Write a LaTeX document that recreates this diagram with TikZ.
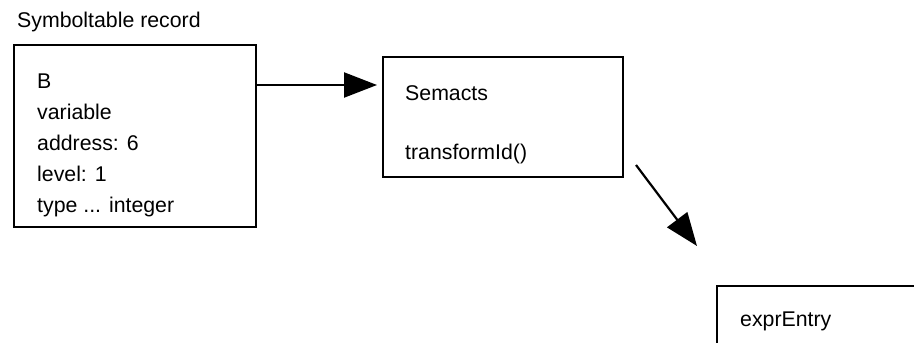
\documentclass[tikz,border=0pt]{standalone}
\usepackage{fontspec}
\setmainfont{Liberation Sans}
\usetikzlibrary{arrows.meta}
\begin{document}
\begin{tikzpicture}[x=1pt,y=-1pt,
  box/.style={draw,line width=2.2pt,rectangle,inner sep=0pt},
  txt/.style={anchor=base west,inner sep=0pt,font=\fontsize{21.3}{31}\selectfont},
  conn/.style={line width=2.2pt,-{Triangle[length=33pt,width=25pt]}}]
\useasboundingbox (0,0) rectangle (914,343);
\clip (0,0) rectangle (914,343);
% boxes
\node[box,minimum width=242pt,minimum height=182pt] (b1) at (135,136) {};
\node[box,minimum width=240pt,minimum height=120pt] (b2) at (503,117) {};
\node[box,minimum width=243pt,minimum height=114pt] (b3) at (838.5,343) {};
% texts
\node[txt] (title) at (17,27) {Symboltable record};
\node[txt] (t1) at (37,88) {B};
\node[txt] (t2) at (37,119) {variable};
\node[txt] (t3) at (37,150) {address: 6};
\node[txt] (t4) at (37,181) {level: 1};
\node[txt] (t5) at (37,212) {type ... integer};
\node[txt] (s1) at (405,100) {Semacts};
\node[txt] (s2) at (405,159) {transformId()};
\node[txt] (e1) at (740,326) {exprEntry};
% connectors
\coordinate (a1) at (377,85);
\coordinate (a2s) at (636,165);
\coordinate (a2e) at (697,246);
\draw[conn] (b1.east |- a1) -- (a1);
\draw[conn] (a2s) -- (a2e);
\end{tikzpicture}
\end{document}
